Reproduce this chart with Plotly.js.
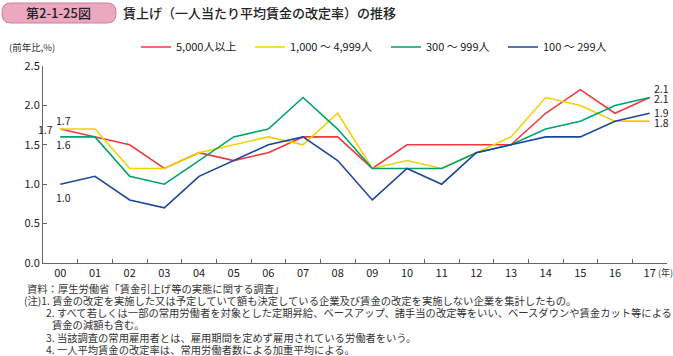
<!DOCTYPE html>
<html>
<head>
<meta charset="utf-8">
<script src="https://cdn.plot.ly/plotly-3.0.1.min.js"></script>
<style>
html,body{margin:0;padding:0;background:#fff;}
#chart{width:673px;height:356px;}
</style>
</head>
<body>
<div id="chart"></div>
<script>
const years = ['00','01','02','03','04','05','06','07','08','09','10','11','12','13','14','15','16','17'];
const seriesNames = ['5,000人以上', '1,000 ～ 4,999人', '300 ～ 999人', '100 ～ 299人'];
const large   = [1.7,1.6,1.5,1.2,1.4,1.3,1.4,1.6,1.6,1.2,1.5,1.5,1.5,1.5,1.9,2.2,1.9,2.1];
const upper   = [1.7,1.7,1.2,1.2,1.4,1.5,1.6,1.5,1.9,1.2,1.3,1.2,1.4,1.6,2.1,2.0,1.8,1.8];
const middle  = [1.6,1.6,1.1,1.0,1.3,1.6,1.7,2.1,1.7,1.2,1.2,1.2,1.4,1.5,1.7,1.8,2.0,2.1];
const small   = [1.0,1.1,0.8,0.7,1.1,1.3,1.5,1.6,1.3,0.8,1.2,1.0,1.4,1.5,1.6,1.6,1.8,1.9];
const colors  = ['#ef3b3f', '#f2d200', '#00a26b', '#1c469e'];

const FONT = '"Noto Sans CJK JP", "Noto Sans", sans-serif';
const allSeries = [large, upper, middle, small];
const legendIds = ['legend', 'legend2', 'legend3', 'legend4'];
const legendX = [136, 250, 386, 503];

// plot area in pixels
const PL = 43, PR = 667, PT = 66, PB = 263;
const PW = PR - PL, PH = PB - PT;
const px = v => (v - PL) / PW;
const py = v => (PB - v) / PH;

const traces = allSeries.map((vals, i) => ({
  type: 'scatter', mode: 'lines', x: years, y: vals, name: seriesNames[i],
  line: {color: colors[i], width: 1.6}, legend: legendIds[i], hoverinfo: 'skip'
}));

const annotations = [];
const n = years.length - 1;
function lab(text, x, y, xshift, yshift, xanchor) {
  annotations.push({x: x, y: y, xref: 'x', yref: 'y', text: text, showarrow: false,
    xanchor: xanchor, yanchor: 'middle', xshift: xshift, yshift: yshift,
    font: {family: FONT, size: 10.5, color: '#222'}});
}
lab(upper[0].toFixed(1), years[0], upper[0], -6, 9, 'left');
lab(large[0].toFixed(1), years[0], large[0], -5, 0, 'right');
lab(middle[0].toFixed(1), years[0], middle[0], -6, -8, 'left');
lab(small[0].toFixed(1), years[0], small[0], -6, -13, 'left');
lab(large[n].toFixed(1), years[n], large[n], 2, 9, 'left');
lab(middle[n].toFixed(1), years[n], middle[n], 2, -1, 'left');
lab(small[n].toFixed(1), years[n], small[n], 2, 1, 'left');
lab(upper[n].toFixed(1), years[n], upper[n], 2, -1, 'left');

const pText = (text, x, y, size, opts) => Object.assign({
  xref: 'paper', yref: 'paper', x: px(x), y: py(y), text: text, showarrow: false,
  xanchor: 'left', yanchor: 'middle', font: {family: FONT, size: size, color: '#222'}
}, opts || {});
annotations.push(pText('第2-1-25図', 58, 13, 13, {xanchor: 'center', font: {family: FONT, size: 13, color: '#222', weight: 500}}));
annotations.push(pText('賃上げ（一人当たり平均賃金の改定率）の推移', 121, 13, 13, {font: {family: FONT, size: 13, color: '#222', weight: 500}}));
annotations.push(pText('(前年比,%)', 7, 47, 9.5, {font: {family: FONT, size: 9.5, color: '#333'}}));
annotations.push(pText('(年)', 656, 272, 9, {font: {family: FONT, size: 9, color: '#333'}}));
const notes = [
  ['資料：厚生労働省「賃金引上げ等の実態に関する調査」', 25, 288],
  ['(注)1. 賃金の改定を実施した又は予定していて額も決定している企業及び賃金の改定を実施しない企業を集計したもの。', 22, 300],
  ['2. すべて若しくは一部の常用労働者を対象とした定期昇給、ベースアップ、諸手当の改定等をいい、ベースダウンや賃金カット等による', 44, 312],
  ['賃金の減額も含む。', 50, 324],
  ['3. 当該調査の常用雇用者とは、雇用期間を定めず雇用されている労働者をいう。', 44, 337],
  ['4. 一人平均賃金の改定率は、常用労働者数による加重平均による。', 44, 349]
];
notes.forEach(nt => annotations.push(pText(nt[0], nt[1], nt[2], 10.3, {font: {family: FONT, size: 10.3, color: '#333'}})));

const legendBase = (i) => ({
  orientation: 'h', xref: 'container', yref: 'container', x: legendX[i] / 673, y: 1 - 47 / 356,
  xanchor: 'left', yanchor: 'middle', bgcolor: 'rgba(0,0,0,0)', borderwidth: 0,
  font: {family: FONT, size: 11, color: '#222'}, itemclick: false, itemdoubleclick: false
});

// rounded pill for the figure number
const x0 = 2, x1 = 116, y0 = 3, y1 = 23, r = 9;
const pill = `M${px(x0 + r)},${py(y0)} L${px(x1 - r)},${py(y0)} Q${px(x1)},${py(y0)} ${px(x1)},${py(y0 + r)} ` +
  `L${px(x1)},${py(y1 - r)} Q${px(x1)},${py(y1)} ${px(x1 - r)},${py(y1)} L${px(x0 + r)},${py(y1)} ` +
  `Q${px(x0)},${py(y1)} ${px(x0)},${py(y1 - r)} L${px(x0)},${py(y0 + r)} Q${px(x0)},${py(y0)} ${px(x0 + r)},${py(y0)} Z`;

const layout = {
  width: 673, height: 356,
  margin: {l: PL, r: 673 - PR, t: PT, b: 356 - PB},
  paper_bgcolor: '#fff', plot_bgcolor: '#fff',
  font: {family: FONT, color: '#222'},
  showlegend: true,
  legend: legendBase(0), legend2: legendBase(1), legend3: legendBase(2), legend4: legendBase(3),
  xaxis: {
    type: 'category', categoryarray: years, tickson: 'boundaries', ticks: 'inside', ticklen: 4,
    tickcolor: '#666', showline: true, linecolor: '#666', linewidth: 1, showgrid: false, zeroline: false,
    tickfont: {family: FONT, size: 11, color: '#222'}, range: [-0.5, 17.5], fixedrange: true
  },
  yaxis: {
    range: [0, 2.5], dtick: 0.5, tickformat: '.1f', ticks: 'inside', ticklen: 4, tickcolor: '#666',
    showline: true, linecolor: '#666', linewidth: 1, showgrid: false, zeroline: false,
    tickfont: {family: FONT, size: 11, color: '#222'}, fixedrange: true
  },
  shapes: [{
    type: 'path', xref: 'paper', yref: 'paper', layer: 'below', path: pill,
    fillcolor: '#eba8bf', line: {color: '#cf7c9a', width: 1}
  }],
  annotations: annotations
};

Plotly.newPlot('chart', traces, layout, {staticPlot: true, displayModeBar: false});
</script>
</body>
</html>
